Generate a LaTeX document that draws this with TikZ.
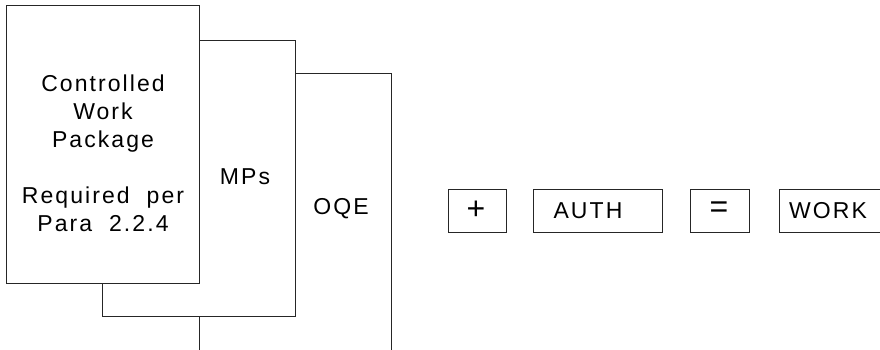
\documentclass[tikz,border=0pt]{standalone}
\usepackage{fontspec}
\setmainfont{Liberation Sans}[LetterSpace=9,WordSpace=2]
\begin{document}
\begin{tikzpicture}[x=1pt,y=-1pt,
  line/.style={line width=0.9pt,black!85},
  txt/.style={inner sep=0pt,font=\fontsize{23}{28}\selectfont,align=center},
  sym/.style={inner sep=0pt,font=\fontsize{32}{32}\selectfont},
  opbox/.style={draw,line width=0.9pt,black!85,minimum height=43pt,inner sep=0pt}]
\useasboundingbox (0,0) rectangle (880,349);
% stacked sheets
\draw[line] (6,5) rectangle (199,283);
\draw[line] (199,40) -- (295,40) -- (295,316) -- (102,316) -- (102,283);
\draw[line] (295,73) -- (391,73) -- (391,360);
\draw[line] (199,316) -- (199,360);
% sheet texts
\node[txt] (cwp) at (103,153) {Controlled\\Work\\Package\\[28pt]Required per\\Para 2.2.4};
\node[txt] (mps) at (245,177) {MPs};
\node[txt] (oqe) at (341,209) {OQE};
% equation boxes
\node[opbox,minimum width=58pt] (plusbox) at (477,211) {};
\node[opbox,minimum width=129pt] (authbox) at (597.5,211) {};
\node[opbox,minimum width=59pt] (eqbox) at (719.5,211) {};
\node[opbox,minimum width=160pt] (workbox) at (859,211) {};
\node[sym] (plus) at (476,210) {+};
\node[txt] (auth) at (588,211) {AUTH};
\node[sym] (eq) at (719,210) {=};
\node[txt] (work) at (828,211) {WORK};
\end{tikzpicture}
\end{document}
